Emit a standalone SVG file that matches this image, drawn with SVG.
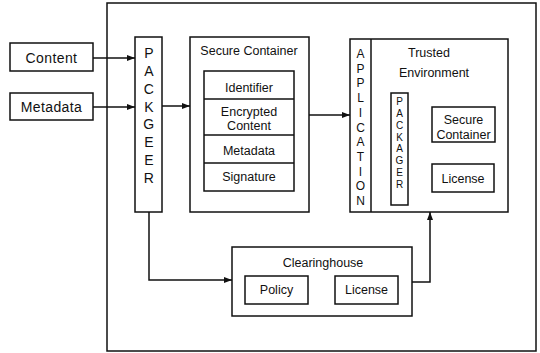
<svg xmlns="http://www.w3.org/2000/svg" width="540" height="353" viewBox="0 0 540 353">
  <style>
    .box { fill: none; stroke: #111; stroke-width: 1.5; }
    .line { fill: none; stroke: #111; stroke-width: 1.5; }
    text { font-family: "Liberation Sans", Arial, sans-serif; fill: #111; text-anchor: middle; }
    .lg { font-size: 14px; letter-spacing: 0.4px; }
    .md { font-size: 12.5px; }
    .sm { font-size: 12px; }
    .xs { font-size: 10px; }
  </style>
  <defs>
    <marker id="arrow" viewBox="0 0 8 6" refX="8" refY="3" markerWidth="8" markerHeight="6" markerUnits="userSpaceOnUse" orient="auto">
      <path d="M0,0 L8,3 L0,6 Z" fill="#111"/>
    </marker>
  </defs>
  <rect width="540" height="353" fill="#fff"/>

  <!-- outer system boundary -->
  <g id="system">
    <rect class="box" x="107" y="3" width="429" height="348"/>
  </g>

  <g id="content">
    <rect class="box" x="10" y="43" width="83" height="28"/>
    <text class="lg" x="51.5" y="63">Content</text>
  </g>

  <g id="metadata">
    <rect class="box" x="10" y="93" width="83" height="27"/>
    <text class="lg" x="51.5" y="112">Metadata</text>
  </g>

  <g id="packager">
    <rect class="box" x="135" y="37" width="27" height="175"/>
    <text class="lg" x="149" y="58">P</text>
    <text class="lg" x="149" y="76">A</text>
    <text class="lg" x="149" y="94">C</text>
    <text class="lg" x="149" y="112">K</text>
    <text class="lg" x="149" y="129">G</text>
    <text class="lg" x="149" y="147">E</text>
    <text class="lg" x="149" y="165">E</text>
    <text class="lg" x="149" y="183">R</text>
  </g>

  <g id="secure-container">
    <rect class="box" x="190" y="37" width="119" height="175"/>
    <text class="md" x="249" y="55">Secure Container</text>
    <rect class="box" x="204" y="71" width="90" height="120"/>
    <line class="line" x1="204" y1="99" x2="294" y2="99"/>
    <line class="line" x1="204" y1="135" x2="294" y2="135"/>
    <line class="line" x1="204" y1="163" x2="294" y2="163"/>
    <text class="md" x="249" y="92">Identifier</text>
    <text class="md" x="249" y="116">Encrypted</text>
    <text class="md" x="249" y="130">Content</text>
    <text class="md" x="249" y="155">Metadata</text>
    <text class="md" x="249" y="181">Signature</text>
  </g>

  <g id="trusted-environment">
    <rect class="box" x="350" y="39" width="158" height="173"/>
    <line class="line" x1="371" y1="39" x2="371" y2="212"/>
    <text class="sm" x="360.5" y="58">A</text>
    <text class="sm" x="360.5" y="72.7">P</text>
    <text class="sm" x="360.5" y="87.4">P</text>
    <text class="sm" x="360.5" y="102.1">L</text>
    <text class="sm" x="360.5" y="116.8">I</text>
    <text class="sm" x="360.5" y="131.5">C</text>
    <text class="sm" x="360.5" y="146.2">A</text>
    <text class="sm" x="360.5" y="160.9">T</text>
    <text class="sm" x="360.5" y="175.6">I</text>
    <text class="sm" x="360.5" y="190.3">O</text>
    <text class="sm" x="360.5" y="205">N</text>
    <text class="md" x="429" y="57">Trusted</text>
    <text class="md" x="434" y="77">Environment</text>
  </g>

  <g id="inner-packager">
    <rect class="box" x="391" y="93" width="17" height="112"/>
    <text class="xs" x="399.5" y="105">P</text>
    <text class="xs" x="399.5" y="116.9">A</text>
    <text class="xs" x="399.5" y="128.7">C</text>
    <text class="xs" x="399.5" y="140.6">K</text>
    <text class="xs" x="399.5" y="152.4">A</text>
    <text class="xs" x="399.5" y="164.3">G</text>
    <text class="xs" x="399.5" y="176.1">E</text>
    <text class="xs" x="399.5" y="188">R</text>
  </g>

  <g id="inner-secure-container">
    <rect class="box" x="432" y="107" width="63" height="35"/>
    <text class="md" x="463.5" y="124">Secure</text>
    <text class="md" x="463.5" y="138.5">Container</text>
  </g>

  <g id="inner-license">
    <rect class="box" x="432" y="164" width="62" height="28"/>
    <text class="md" x="463" y="183">License</text>
  </g>

  <g id="clearinghouse">
    <rect class="box" x="232" y="247" width="180" height="69"/>
    <text class="md" x="323" y="267">Clearinghouse</text>
    <rect class="box" x="245" y="276" width="63" height="28"/>
    <text class="md" x="276.5" y="294">Policy</text>
    <rect class="box" x="335" y="276" width="63" height="28"/>
    <text class="md" x="366.5" y="294">License</text>
  </g>

  <g id="connectors">
    <line class="line" x1="93" y1="58" x2="135" y2="58" marker-end="url(#arrow)"/>
    <line class="line" x1="93" y1="107" x2="135" y2="107" marker-end="url(#arrow)"/>
    <line class="line" x1="162" y1="106" x2="190" y2="106" marker-end="url(#arrow)"/>
    <line class="line" x1="309" y1="115" x2="350" y2="115" marker-end="url(#arrow)"/>
    <polyline class="line" points="149,212 149,280 232,280" marker-end="url(#arrow)"/>
    <polyline class="line" points="412,282 430,282 430,212" marker-end="url(#arrow)"/>
  </g>
</svg>
